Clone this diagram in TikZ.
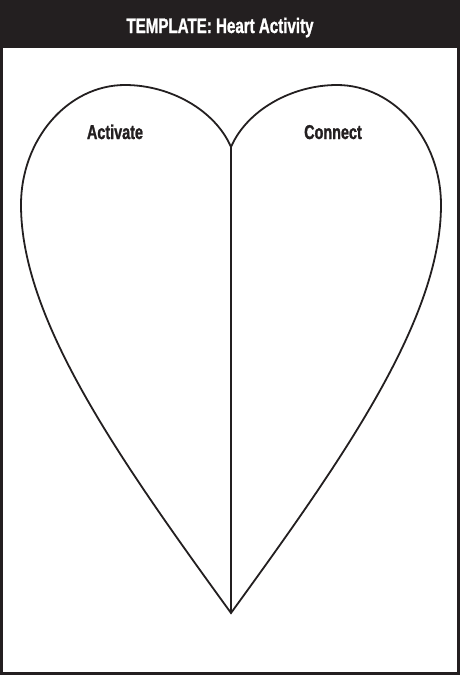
\documentclass[tikz,border=0pt]{standalone}
\usepackage{fontspec}
\newfontfamily\condfont[FakeStretch=0.72,BoldFeatures={FakeBold=1.2}]{Liberation Sans}
\definecolor{ink}{HTML}{231F20}
\begin{document}
\begin{tikzpicture}[x=1pt,y=-1pt,
  heartline/.style={draw=ink,line width=1.8pt},
  lbl/.style={font={\condfont\bfseries\fontsize{20}{24}\selectfont}, text=ink, anchor=base, inner sep=0pt},
  ttl/.style={font={\condfont\bfseries\fontsize{21}{25}\selectfont}, text=white, anchor=base, inner sep=0pt}]
\useasboundingbox (0,0) rectangle (460,675);
\fill[white] (0,0) rectangle (460,675);
\fill[ink] (0,0) rectangle (460,48);
\draw[ink,line width=3pt] (1.5,1.5) rectangle (458.5,673.5);
\node[ttl] (title) at (220,33) {TEMPLATE: Heart Activity};
\coordinate (cusp) at (231,147);
\coordinate (bot) at (231,613);
\coordinate (ltop) at (125,85);
\coordinate (lleft) at (21,205);
\coordinate (rtop) at (337,85);
\coordinate (rright) at (441,205);
\draw[heartline] (cusp) .. controls (215,110) and (170,85) .. (ltop)
  .. controls (68,85) and (21,139) .. (lleft)
  .. controls (21,320) and (120,460) .. (bot)
  .. controls (342,460) and (441,320) .. (rright)
  .. controls (441,139) and (394,85) .. (rtop)
  .. controls (292,85) and (247,110) .. (cusp);
\draw[heartline] (cusp) -- (bot);
\node[lbl] (activate) at (115,139) {Activate};
\node[lbl] (connect) at (333,139) {Connect};
\end{tikzpicture}
\end{document}
